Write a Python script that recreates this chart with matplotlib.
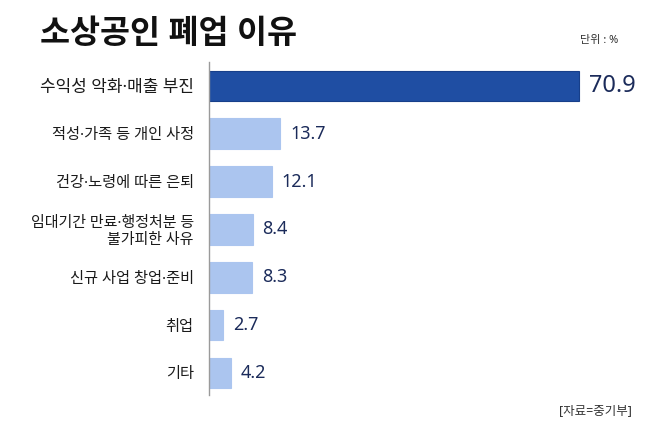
import matplotlib
matplotlib.use("Agg")
import matplotlib.pyplot as plt

# data
reasons = ['수익성 악화·매출 부진', '적성·가족 등 개인 사정', '건강·노령에 따른 은퇴',
           '임대기간 만료·행정처분 등\n불가피한 사유', '신규 사업 창업·준비', '취업', '기타']
shares = [70.9, 13.7, 12.1, 8.4, 8.3, 2.7, 4.2]

# Noto Sans first so the middle dot and spaces stay narrow, Hangul falls through to CJK
plt.rcParams['font.family'] = ['Noto Sans', 'Noto Sans CJK KR', 'DejaVu Sans']

dark = '#1f4ea3'
light = '#abc5ef'
navy = '#1b2b5a'

fig = plt.figure(figsize=(6.58, 4.38), dpi=100)
fig.patch.set_facecolor('white')

# axes box: x 209..640 px, y 62..395 px
ax = fig.add_axes([209/658, 1-395/438, (640-209)/658, (395-62)/438])

colors = [dark] + [light]*(len(shares)-1)
edges = ['#173f8a'] + [light]*(len(shares)-1)
ypos = list(range(len(shares)))
ax.barh(ypos, shares, height=0.64, color=colors, edgecolor=edges, linewidth=0.8)

ax.set_xlim(0, 70.9*431/370)
ax.set_ylim(6.46, -0.5)

ax.set_yticks(ypos)
ax.set_yticklabels(reasons, fontsize=11, color='#1a1a1a', linespacing=1.15)
ax.tick_params(axis='y', length=0, pad=11)
ax.set_xticks([])
# highlighted top item is set a bit larger in the original
labs = ax.get_yticklabels()
labs[0].set_fontsize(12.2)
labs[3].set_fontsize(10.8)

for s in ['top', 'right', 'bottom']:
    ax.spines[s].set_visible(False)
ax.spines['left'].set_color('#9a9a9a')
ax.spines['left'].set_linewidth(1.0)

for i, v in enumerate(shares):
    fs = 17 if i == 0 else 13
    ax.annotate(f'{v}', xy=(v, i), xytext=(7, 0), textcoords='offset points',
                ha='left', va='center', fontsize=fs, color=navy)

fig.text(40/658, 1-35/438, '소상공인 폐업 이유', fontsize=23.5, fontweight='bold',
         color='#111111', ha='left', va='center')
fig.text(618/658, 1-41/438, '단위 : %', fontsize=8, color='#333333',
         ha='right', va='center')
fig.text(632/658, 1-411/438, '[자료=중기부]', fontsize=9, color='#333333',
         ha='right', va='center')

fig.savefig('out.png', dpi=100, facecolor='white')
